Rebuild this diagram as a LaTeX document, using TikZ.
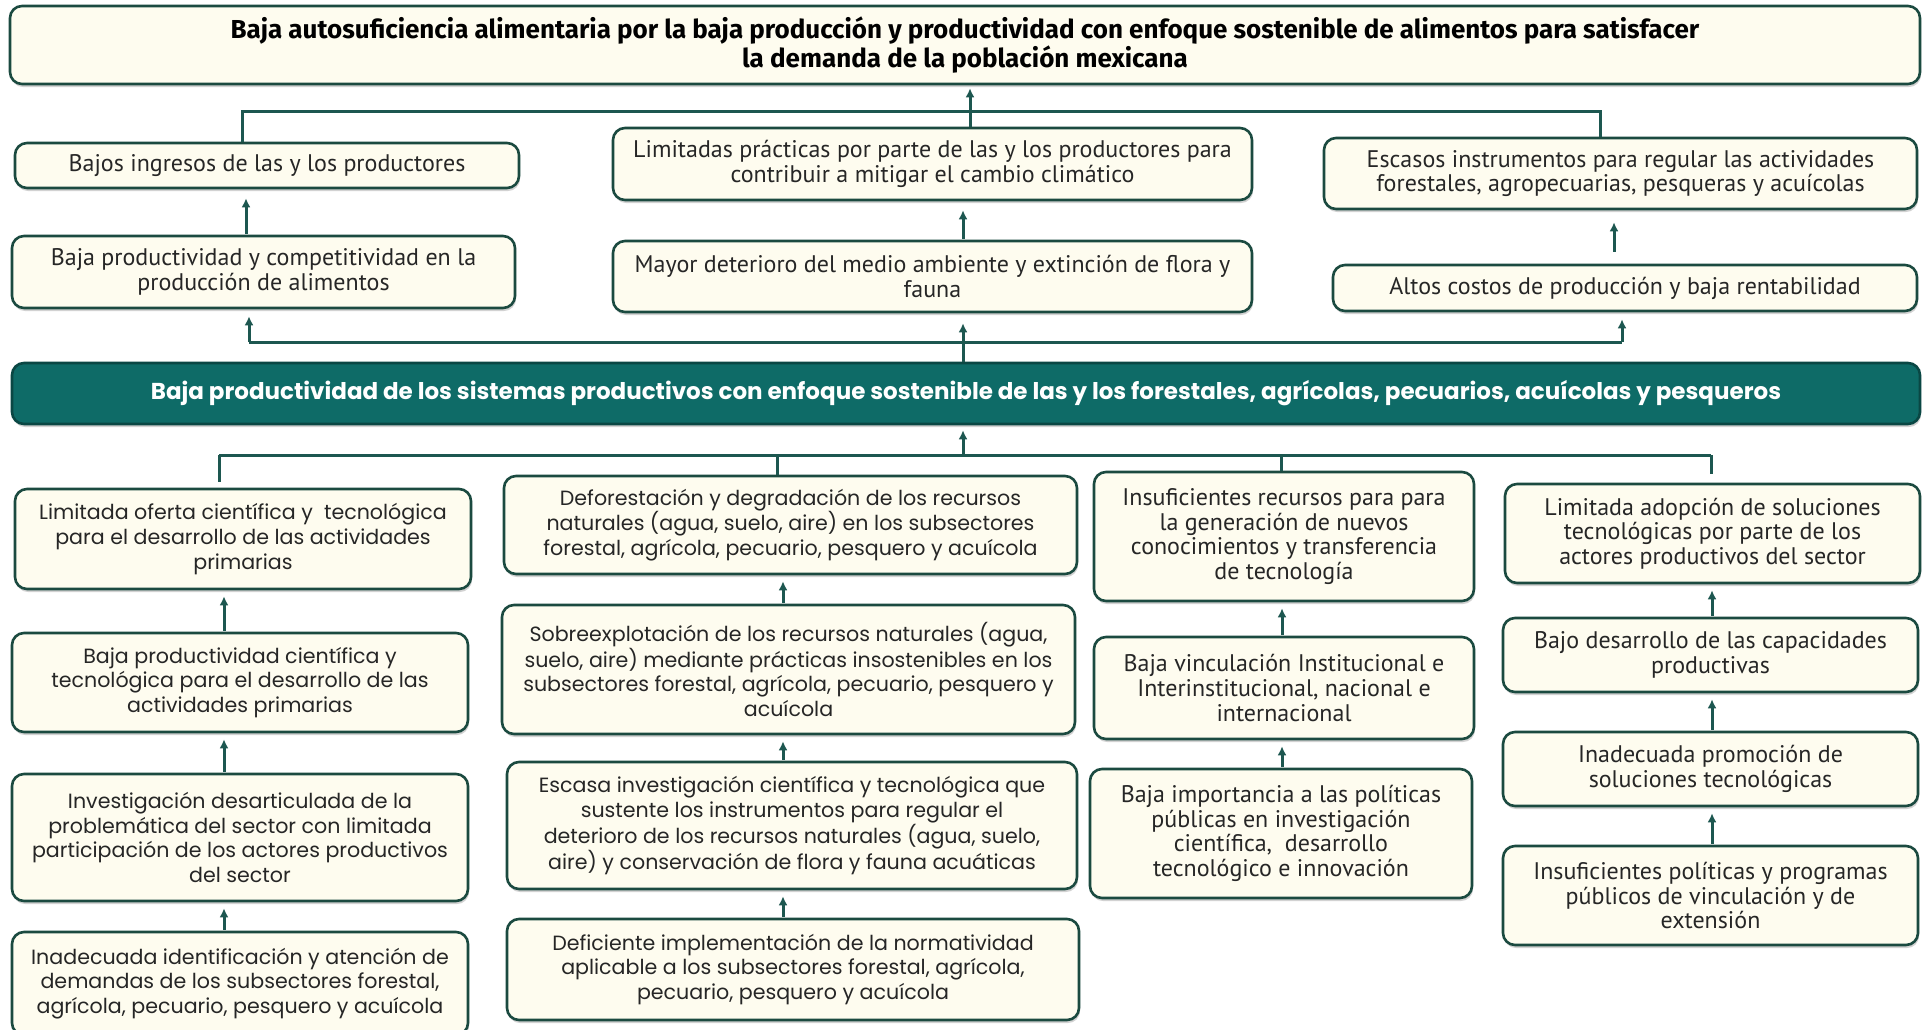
\documentclass[tikz,border=0pt]{standalone}
\usepackage{fontspec}
\setmainfont{PT Sans}
\newfontfamily\wide{Poppins}
\newfontfamily\ttl{Fira Sans}
\usetikzlibrary{shadows,arrows.meta}
\definecolor{cream}{HTML}{FEFCEF}
\definecolor{bord}{HTML}{1B4A40}
\definecolor{lin}{HTML}{1D5750}
\definecolor{barfill}{HTML}{0E6B67}
\definecolor{barbord}{HTML}{0A4744}
\definecolor{txt}{HTML}{262626}
\tikzset{
  box/.style={draw=bord, line width=2.6pt, fill=cream, rounded corners=12pt, align=center,
    inner sep=2pt, text=txt, drop shadow={opacity=0.35, shadow xshift=1pt, shadow yshift=-3pt}},
  nar/.style={box, font=\fontsize{24}{24.6}\selectfont},
  wid/.style={box, font=\wide\fontsize{20.6}{24.6}\selectfont},
  conn/.style={draw=lin, line width=3pt},
  arr/.style={conn, -{Latex[length=9pt,width=9pt]}, shorten >=7pt},
  colarr/.style={arr, shorten <=1pt, shorten >=6pt}
}
\begin{document}
\begin{tikzpicture}[x=1pt,y=-1pt]
\fill[white] (0,0) rectangle (1927,1029);
\useasboundingbox (0,0) rectangle (1927,1029);

% top
\node[box, minimum width=1910pt, minimum height=78pt, font=\ttl\bfseries\fontsize{26}{26.5}\selectfont, text=black] (top) at (965,45)
 {Baja autosuficiencia alimentaria por la baja producción y productividad con enfoque sostenible de alimentos para satisfacer\\la demanda de la población mexicana};

% row A
\node[nar, minimum width=504pt, minimum height=45pt] (A1) at (267,165.5) {Bajos ingresos de las y los productores};
\node[nar, minimum width=639pt, minimum height=72pt] (A2) at (932.5,164) {Limitadas prácticas por parte de las y los productores para\\contribuir a mitigar el cambio climático};
\node[nar, minimum width=593pt, minimum height=71pt] (A3) at (1620.5,173.5) {Escasos instrumentos para regular las actividades\\forestales, agropecuarias, pesqueras y acuícolas};

% row B
\node[nar, minimum width=503pt, minimum height=72pt] (B1) at (263.5,272) {Baja productividad y competitividad en la\\producción de alimentos};
\node[nar, minimum width=639pt, minimum height=71pt] (B2) at (932.5,276.5) {Mayor deterioro del medio ambiente y extinción de flora y\\fauna};
\node[nar, minimum width=584pt, minimum height=46pt] (B3) at (1625,288) {Altos costos de producción y baja rentabilidad};

% bar
\node[draw=barbord, line width=2.6pt, fill=barfill, rounded corners=12pt, text=white,
  drop shadow={opacity=0.35, shadow xshift=1pt, shadow yshift=-3pt},
  minimum width=1908pt, minimum height=61pt, font=\wide\bfseries\fontsize{23}{25}\selectfont] (bar) at (966,393.5)
 {Baja productividad de los sistemas productivos con enfoque sostenible de las y los forestales, agrícolas, pecuarios, acuícolas y pesqueros};

% column 1
\node[wid, minimum width=456pt, minimum height=100pt] (C1a) at (243,539) {Limitada oferta científica y\ \ tecnológica\\para el desarrollo de las actividades\\primarias};
\node[wid, minimum width=456pt, minimum height=99pt] (C1b) at (240,682.5) {Baja productividad científica y\\tecnológica para el desarrollo de las\\actividades primarias};
\node[wid, minimum width=456pt, minimum height=127pt] (C1c) at (240,837.5) {Investigación desarticulada de la\\problemática del sector con limitada\\participación de los actores productivos\\del sector};
\node[wid, minimum width=456pt, minimum height=103pt] (C1d) at (240,983.5) {Inadecuada identificación y atención de\\demandas de los subsectores forestal,\\agrícola, pecuario, pesquero y acuícola};

% column 2
\node[wid, minimum width=573pt, minimum height=98pt] (C2a) at (790.5,525) {Deforestación y degradación de los recursos\\naturales (agua, suelo, aire) en los subsectores\\forestal, agrícola, pecuario, pesquero y acuícola};
\node[wid, minimum width=573pt, minimum height=129pt] (C2b) at (788.5,669.5) {Sobreexplotación de los recursos naturales (agua,\\suelo, aire) mediante prácticas insostenibles en los\\subsectores forestal, agrícola, pecuario, pesquero y\\acuícola};
\node[wid, minimum width=570pt, minimum height=127pt] (C2c) at (792,825.5) {Escasa investigación científica y tecnológica que\\sustente los instrumentos para regular el\\deterioro de los recursos naturales (agua, suelo,\\aire) y conservación de flora y fauna acuáticas};
\node[wid, minimum width=572pt, minimum height=101pt] (C2d) at (793,969.5) {Deficiente implementación de la normatividad\\aplicable a los subsectores forestal, agrícola,\\pecuario, pesquero y acuícola};

% column 3
\node[nar, minimum width=380pt, minimum height=129pt] (C3a) at (1284,536.5) {Insuficientes recursos para para\\la generación de nuevos\\conocimientos y transferencia\\de tecnología};
\node[nar, minimum width=380pt, minimum height=102pt] (C3b) at (1284,688) {Baja vinculación Institucional e\\Interinstitucional, nacional e\\internacional};
\node[nar, minimum width=382pt, minimum height=129pt] (C3c) at (1281,833.5) {Baja importancia a las políticas\\públicas en investigación\\científica,\ \ desarrollo\\tecnológico e innovación};

% column 4
\node[nar, minimum width=415pt, minimum height=99pt] (C4a) at (1712.5,533.5) {Limitada adopción de soluciones\\tecnológicas por parte de los\\actores productivos del sector};
\node[nar, minimum width=415pt, minimum height=74pt] (C4b) at (1710.5,655) {Bajo desarrollo de las capacidades\\productivas};
\node[nar, minimum width=415pt, minimum height=74pt] (C4c) at (1710.5,769) {Inadecuada promoción de\\soluciones tecnológicas};
\node[nar, minimum width=415pt, minimum height=99pt] (C4d) at (1710.5,895.5) {Insuficientes políticas y programas\\públicos de vinculación y de\\extensión};

% coordinates
\coordinate (jT) at (970,111);
\coordinate (jTL) at (242,111);
\coordinate (jTR) at (1600,111);
\coordinate (xa1) at (246,0);
\coordinate (xa2) at (963,0);
\coordinate (xa3) at (1614,0);
\coordinate (jB) at (963,342);
\coordinate (jBL) at (249,342);
\coordinate (jBR) at (1622,342);
\coordinate (jC) at (963,455);
\coordinate (jC1) at (219,455);
\coordinate (jC2) at (777,455);
\coordinate (jC3) at (1281,455);
\coordinate (jC4) at (1711,455);
\coordinate (xc1) at (224,0);
\coordinate (xc2) at (783,0);
\coordinate (xc3) at (1282,0);
\coordinate (xc4) at (1712,0);

% top connectors
\draw[conn] (A1.north -| jTL) -- (jTL) -- (jTR) -- (A3.north -| jTR);
\draw[arr, shorten >=3pt] (A2.north -| jT) -- (top.south -| jT);

% B -> A
\draw[colarr, shorten >=9pt] (B1.north -| xa1) -- (A1.south -| xa1);
\draw[colarr, shorten >=9pt] (B2.north -| xa2) -- (A2.south -| xa2);
\draw[colarr, shorten <=12pt, shorten >=12pt] (B3.north -| xa3) -- (A3.south -| xa3);

% bar -> B
\draw[conn] (jBL) -- (jBR);
\draw[arr] (jBL) -- (B1.south -| jBL);
\draw[arr] (jBR) -- (B3.south -| jBR);
\draw[arr, shorten >=10pt] (bar.north -| jB) -- (B2.south -| jB);

% bottom branch -> bar
\draw[conn] (jC1) -- (jC4);
\draw[arr, shorten >=5pt] (jC) -- (bar.south -| jC);
\draw[conn, shorten >=6pt] (jC1) -- (C1a.north -| jC1);
\draw[conn] (jC2) -- (C2a.north -| jC2);
\draw[conn] (jC3) -- (C3a.north -| jC3);
\draw[conn, shorten >=9pt] (jC4) -- (C4a.north -| jC4);

% column arrows
\draw[colarr] (C1b.north -| xc1) -- (C1a.south -| xc1);
\draw[colarr] (C1c.north -| xc1) -- (C1b.south -| xc1);
\draw[colarr] (C1d.north -| xc1) -- (C1c.south -| xc1);
\draw[colarr] (C2b.north -| xc2) -- (C2a.south -| xc2);
\draw[colarr] (C2c.north -| xc2) -- (C2b.south -| xc2);
\draw[colarr] (C2d.north -| xc2) -- (C2c.south -| xc2);
\draw[colarr] (C3b.north -| xc3) -- (C3a.south -| xc3);
\draw[colarr] (C3c.north -| xc3) -- (C3b.south -| xc3);
\draw[colarr] (C4b.north -| xc4) -- (C4a.south -| xc4);
\draw[colarr] (C4c.north -| xc4) -- (C4b.south -| xc4);
\draw[colarr] (C4d.north -| xc4) -- (C4c.south -| xc4);
\end{tikzpicture}
\end{document}
